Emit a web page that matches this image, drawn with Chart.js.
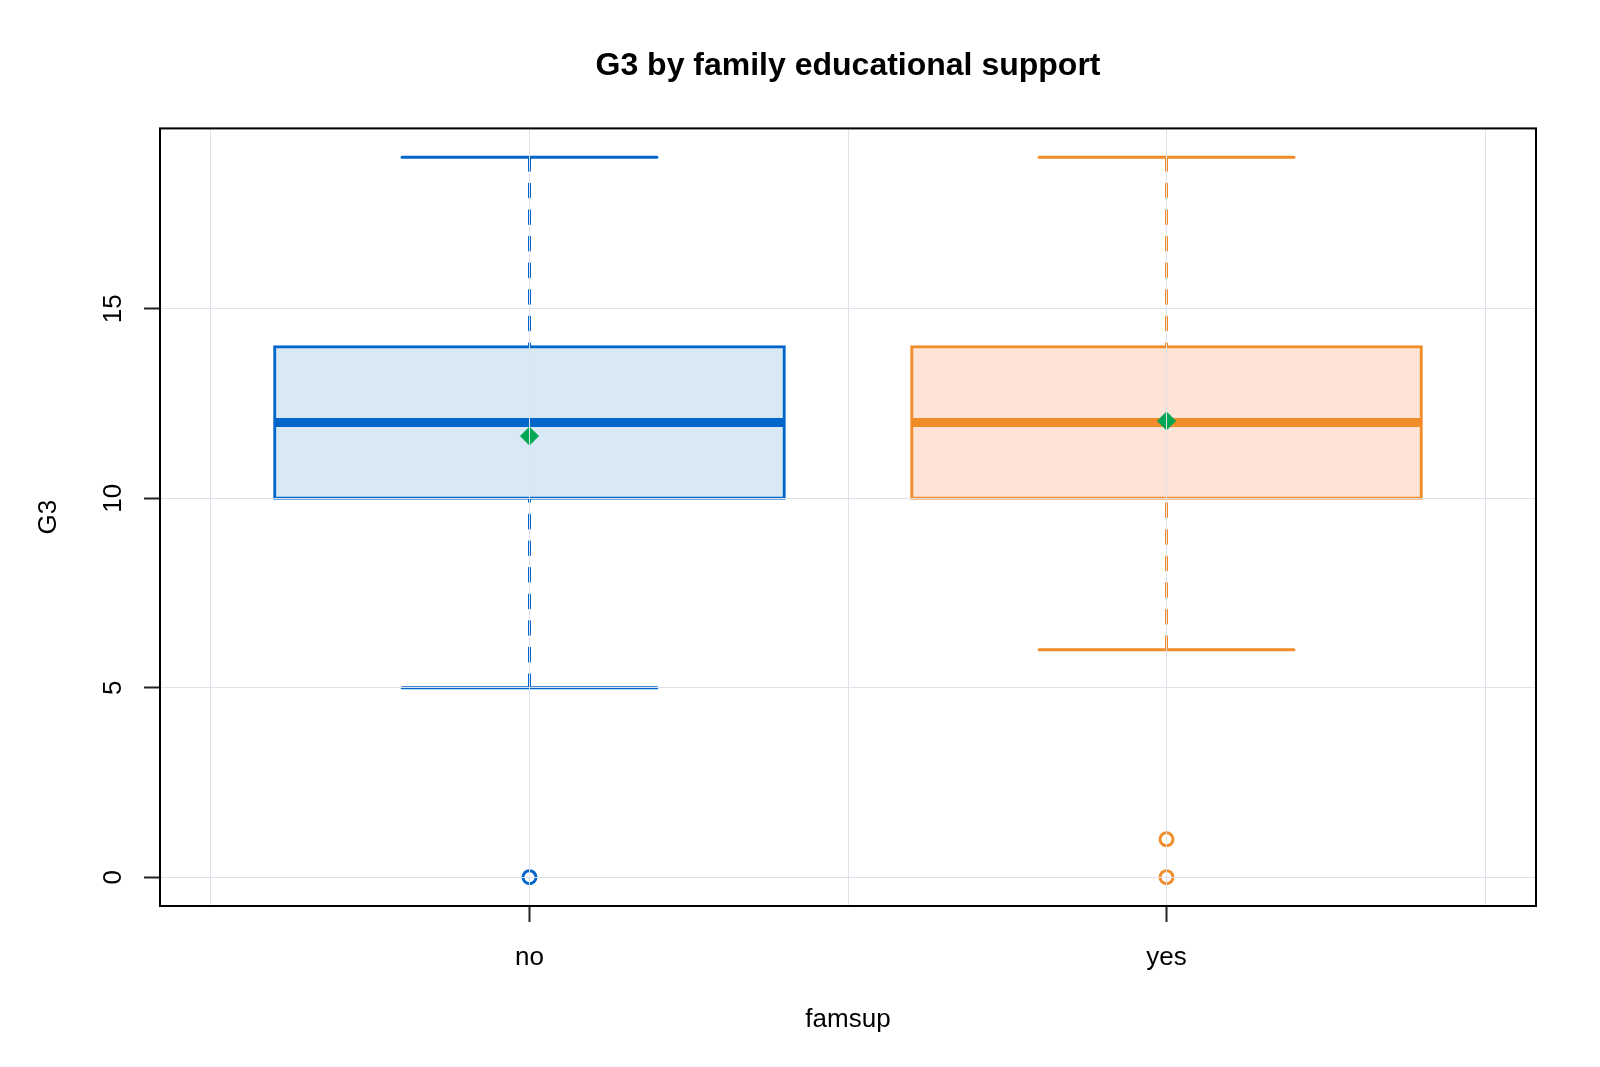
<!DOCTYPE html>
<html>
<head>
<meta charset="utf-8">
<script src="https://cdn.jsdelivr.net/npm/chart.js@4"></script>
<style>
  html, body { margin: 0; padding: 0; background: #fff; }
  canvas { display: block; }
</style>
</head>
<body>
<canvas id="boxChart" width="1600" height="1067"></canvas>
<script>
// === Data ===
const groups = ["no", "yes"];
const lowerWhisker = [5, 6];
const q1 = [10, 10];
const median = [12, 12];
const q3 = [14, 14];
const upperWhisker = [19, 19];
const means = [11.64, 12.04];
const outliers = [[0], [1, 0]];

const yTicks = [0, 5, 10, 15];
const xGrid = [0.5, 1, 1.5, 2, 2.5];

// === Styles ===
const boxBorder = ["#0066cc", "#f28c28"];
const boxFill = ["#d8e9f5", "#fde4d7"];
const meanColor = "#00a651";
const gridColor = "#dde1ec";
const font = "'Liberation Sans', Arial, sans-serif";

const xPos = groups.map((_, i) => i + 1);
const boxHalf = 0.4, capHalf = 0.2;

function seg(x1, y1, x2, y2, opts) {
    return Object.assign({
        type: "line",
        data: [{ x: x1, y: y1 }, { x: x2, y: y2 }],
        pointRadius: 0,
        fill: false,
        borderWidth: 3
    }, opts);
}

const datasets = [];

// means (drawn on top)
datasets.push({
    type: "scatter",
    data: xPos.map((x, i) => ({ x, y: means[i] })),
    pointStyle: "rectRot",
    pointRadius: 9,
    pointHoverRadius: 9,
    backgroundColor: meanColor,
    borderColor: meanColor,
    borderWidth: 1
});

// outliers
groups.forEach((g, i) => {
    datasets.push({
        type: "scatter",
        data: outliers[i].map(v => ({ x: xPos[i], y: v })),
        pointStyle: "circle",
        pointRadius: 6.5,
        pointHoverRadius: 6.5,
        borderWidth: 3,
        borderColor: boxBorder[i],
        backgroundColor: "rgba(0,0,0,0)"
    });
});

// median, caps, whiskers
groups.forEach((g, i) => {
    const x = xPos[i];
    const c = boxBorder[i];
    datasets.push(seg(x - boxHalf, median[i], x + boxHalf, median[i], { borderColor: c, borderWidth: 9, borderCapStyle: "butt" }));
    datasets.push(seg(x - capHalf, upperWhisker[i], x + capHalf, upperWhisker[i], { borderColor: c, borderCapStyle: "round" }));
    datasets.push(seg(x - capHalf, lowerWhisker[i], x + capHalf, lowerWhisker[i], { borderColor: c, borderCapStyle: "round" }));
    // whiskers go from the cap towards the box, like R's bxp
    datasets.push(seg(x, upperWhisker[i], x, q3[i], { borderColor: c, borderDash: [13.3, 13.3], borderCapStyle: "round" }));
    datasets.push(seg(x, lowerWhisker[i], x, q1[i], { borderColor: c, borderDash: [13.3, 13.3], borderCapStyle: "round" }));
});

// boxes (drawn first, underneath)
datasets.push({
    type: "bar",
    data: xPos.map((x, i) => ({ x, y: [q1[i], q3[i]] })),
    backgroundColor: boxFill,
    borderColor: boxBorder,
    borderWidth: 3,
    borderSkipped: false,
    inflateAmount: 1.5, // centre the border on the box edge
    barPercentage: 1,
    // ruler min is the 0.5 grid step, so 1.6 gives a box 0.8 units wide
    categoryPercentage: 1.6
});

const framePlugin = {
    id: "frame",
    afterDraw(chart) {
        const { ctx, chartArea: a } = chart;
        ctx.save();
        ctx.strokeStyle = "#000";
        ctx.lineWidth = 2;
        ctx.strokeRect(a.left, a.top, a.right - a.left, a.bottom - a.top);
        ctx.restore();
    }
};

function isCategoryTick(ctx) {
    return ctx.tick && Number.isInteger(ctx.tick.value);
}

new Chart(document.getElementById("boxChart"), {
    type: "scatter",
    data: { datasets },
    plugins: [framePlugin],
    options: {
        responsive: false,
        animation: false,
        events: [],
        layout: { padding: { left: 0, right: 64, top: 0, bottom: 0 } },
        plugins: {
            legend: { display: false },
            tooltip: { enabled: false },
            title: {
                display: true,
                text: "G3 by family educational support",
                fullSize: false,
                color: "#000",
                font: { family: font, size: 32, weight: "bold" },
                padding: { top: 47, bottom: 43 }
            }
        },
        scales: {
            x: {
                type: "linear",
                min: 0.42,
                max: 2.58,
                // the bar dataset would otherwise switch these on
                offset: false,
                afterFit: s => { s.height = 161; },
                afterBuildTicks: s => { s.ticks = xGrid.map(v => ({ value: v })); },
                border: { display: false },
                grid: {
                    z: 1,
                    offset: false,
                    color: gridColor,
                    lineWidth: 1,
                    tickLength: 16,
                    tickWidth: 2,
                    tickColor: ctx => isCategoryTick(ctx) ? "#222" : "rgba(0,0,0,0)"
                },
                ticks: {
                    color: "#000",
                    font: { family: font, size: 26 },
                    padding: 20,
                    maxRotation: 0,
                    autoSkip: false,
                    callback: v => Number.isInteger(v) ? groups[v - 1] : ""
                },
                title: {
                    display: true,
                    text: "famsup",
                    color: "#000",
                    font: { family: font, size: 26 },
                    padding: { top: 0, bottom: 32 }
                }
            },
            y: {
                type: "linear",
                min: -0.76,
                max: 19.76,
                afterFit: s => { s.width = 160; },
                afterBuildTicks: s => { s.ticks = yTicks.map(v => ({ value: v })); },
                border: { display: false },
                grid: {
                    z: 1,
                    color: gridColor,
                    lineWidth: 1,
                    tickLength: 16,
                    tickWidth: 2,
                    tickColor: "#222"
                },
                ticks: {
                    color: "#000",
                    font: { family: font, size: 26 },
                    minRotation: 90,
                    maxRotation: 90,
                    crossAlign: "center",
                    padding: 15.5
                },
                title: {
                    display: true,
                    text: "G3",
                    color: "#000",
                    font: { family: font, size: 26 },
                    padding: { top: 33, bottom: 0 }
                }
            }
        }
    }
});
</script>
</body>
</html>
